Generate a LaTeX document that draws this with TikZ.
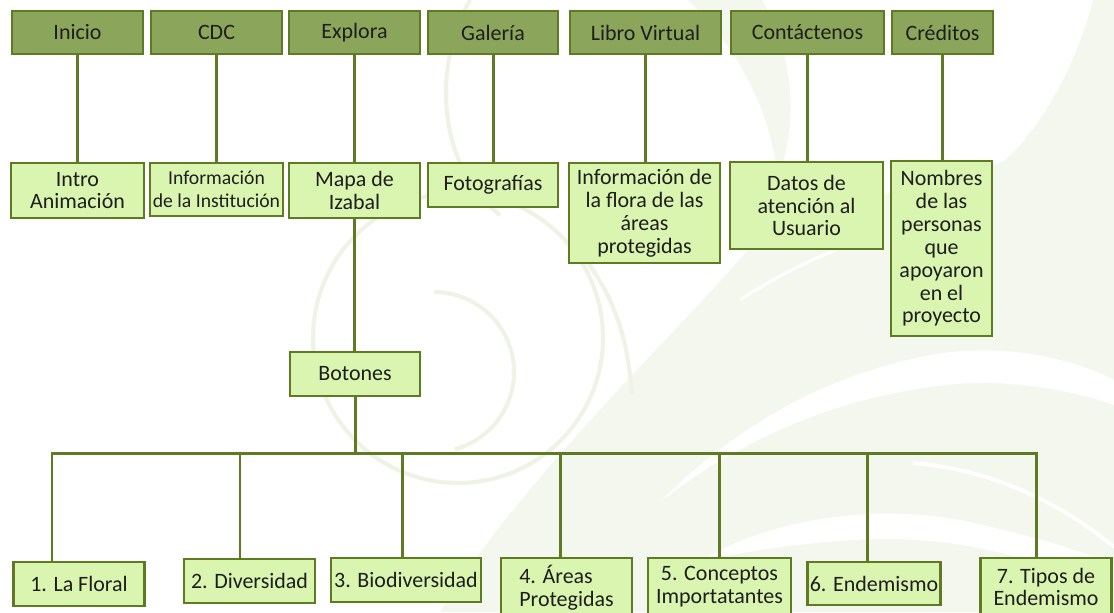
\documentclass[tikz,border=0pt]{standalone}
\usepackage{fontspec}
\setmainfont{Carlito}
\definecolor{topgreen}{HTML}{8BA65B}
\definecolor{palegreen}{HTML}{DAF5B0}
\definecolor{edgegreen}{HTML}{5E7B23}
\definecolor{inkgray}{HTML}{1E1E1E}
\definecolor{tint}{HTML}{F3F7EE}
\definecolor{ringtint}{HTML}{EEF3E6}
\tikzset{
  boxsize/.style 2 args={minimum width=#1*0.02cm, minimum height=#2*0.02cm},
  box/.style={draw=edgegreen, line width=1.4pt, inner sep=1pt, align=center,
              text=inkgray, font=\fontsize{12.5}{13}\selectfont},
  topbox/.style={box, fill=topgreen},
  subbox/.style={box, fill=palegreen},
  link/.style={draw=edgegreen, line width=1.7pt},
  ringline/.style={draw=ringtint, line width=2.3pt},
}
\begin{document}
\begin{tikzpicture}[x=0.02cm, y=-0.02cm]
\useasboundingbox (0,0) rectangle (1114,612);
\clip (0,0) rectangle (1114,612);
\fill[white] (0,0) rectangle (1114,612);

% ---- faint leaf decoration in the background ----
\fill[tint] (440,612) .. controls (520,480) and (680,330) .. (748,250)
  .. controls (810,195) and (950,190) .. (1005,160)
  .. controls (1050,120) and (1080,50) .. (1093,0)
  -- (1114,0) -- (1114,612) -- cycle;
\fill[tint] (688,0) .. controls (740,50) and (770,110) .. (778,178)
  .. controls (800,120) and (792,50) .. (762,0) -- cycle;
% white swooshes across the leaf
\fill[white] (659,503) .. controls (720,440) and (820,370) .. (950,352)
  .. controls (1020,345) and (1080,362) .. (1114,380) -- (1114,405)
  .. controls (1060,386) and (990,378) .. (940,386)
  .. controls (830,398) and (730,446) .. (659,503) -- cycle;
\fill[white] (701,560) .. controls (780,515) and (880,505) .. (960,520)
  .. controls (1030,535) and (1080,550) .. (1114,565) -- (1114,588)
  .. controls (1060,568) and (990,546) .. (930,541)
  .. controls (850,534) and (770,548) .. (701,560) -- cycle;
\draw[white, line width=2.2pt] (913,463) .. controls (1000,470) and (1070,510) .. (1114,547);
\draw[white, line width=1.8pt] (740,300) .. controls (770,280) and (805,262) .. (836,250);
\draw[white, line width=1.6pt] (505,420) .. controls (495,440) and (485,455) .. (478,470);
% faint rings
\draw[ringline] (458,338) circle[radius=145];
\draw[ringline] (434,372) ++(-90:80) arc[start angle=-90, end angle=75, radius=80];
\draw[ringline] (470,0) .. controls (430,70) and (440,170) .. (500,215);
\draw[ringline] (588,263) .. controls (615,300) and (628,340) .. (632,395);

% ---- top menu ----
\node[topbox, boxsize={131}{43}] (inicio)   at (77.5,32.5)  {Inicio};
\node[topbox, boxsize={131}{43}] (cdc)      at (216.5,32.5) {CDC};
\node[topbox, boxsize={131}{43}] (explora)  at (354.5,32.5) {Explora};
\node[topbox, boxsize={130}{43}] (galeria)  at (493,32.5)   {Galería};
\node[topbox, boxsize={151}{43}] (libro)    at (645.5,32.5) {Libro Virtual};
\node[topbox, boxsize={153}{43}] (contacto) at (807.5,32.5) {Contáctenos};
\node[topbox, boxsize={101}{43}] (creditos) at (942.5,32.5) {Créditos};

% ---- second level ----
\node[subbox, boxsize={133}{55}] (intro) at (77.5,190.5) {Intro\\Animación};
\node[subbox, boxsize={133}{53}, font=\fontsize{11.2}{13}\selectfont] (inst) at (216.5,189.5) {Información\\de la Institución};
\node[subbox, boxsize={131}{55}] (mapa) at (354.5,190.5) {Mapa de\\Izabal};
\node[subbox, boxsize={130}{44}] (fotos) at (493,185) {Fotografías};
\node[subbox, boxsize={151}{100}] (flora) at (644.5,213) {Información de\\la flora de las\\áreas\\protegidas};
\node[subbox, boxsize={153}{87}] (datos) at (806.5,205.5) {Datos de\\atención al\\Usuario};
\node[subbox, boxsize={101}{175}] (nombres) at (941.5,248.5) {Nombres\\de las\\personas\\que\\apoyaron\\en el\\proyecto};

\node[subbox, boxsize={130}{44}] (botones) at (355,374) {Botones};

% ---- buttons ----
\node[subbox, boxsize={131}{44}] (b1) at (79,584)    {1. La Floral};
\node[subbox, boxsize={131}{44}] (b2) at (249.5,581) {2. Diversidad};
\node[subbox, boxsize={150}{44}] (b3) at (406,580)   {3. Biodiversidad};
\node[subbox, boxsize={131}{60}, align=left] (b4) at (566.5,588) {4. Áreas\\Protegidas};
\node[subbox, boxsize={143}{58}] (b5) at (719.5,587) {5. Conceptos\\Importatantes};
\node[subbox, boxsize={133}{43}] (b6) at (874,583.5) {6. Endemismo};
\node[subbox, boxsize={131}{58}] (b7) at (1046,587)  {7. Tipos de\\Endemismo};

% ---- connectors ----
\foreach \a/\b in {inicio/intro, cdc/inst, explora/mapa, galeria/fotos,
                   libro/flora, contacto/datos, creditos/nombres}
  \draw[link] (\a.south) -- (\a.south |- \b.north);
\draw[link] (mapa.south) -- (mapa.south |- botones.north);

\coordinate (busL) at (52,453);
\coordinate (busR) at (1036,453);
\draw[link] (botones.south) -- (botones.south |- busL);
\draw[link, line cap=rect] (busL) -- (busR);
\coordinate (d1) at (52,453);
\coordinate (d2) at (240,453);
\coordinate (d3) at (402,453);
\coordinate (d4) at (560,453);
\coordinate (d5) at (719,453);
\coordinate (d6) at (867,453);
\coordinate (d7) at (1036,453);
\foreach \i in {1,...,7}
  \draw[link] (d\i) -- (d\i |- b\i.north);
\end{tikzpicture}
\end{document}
